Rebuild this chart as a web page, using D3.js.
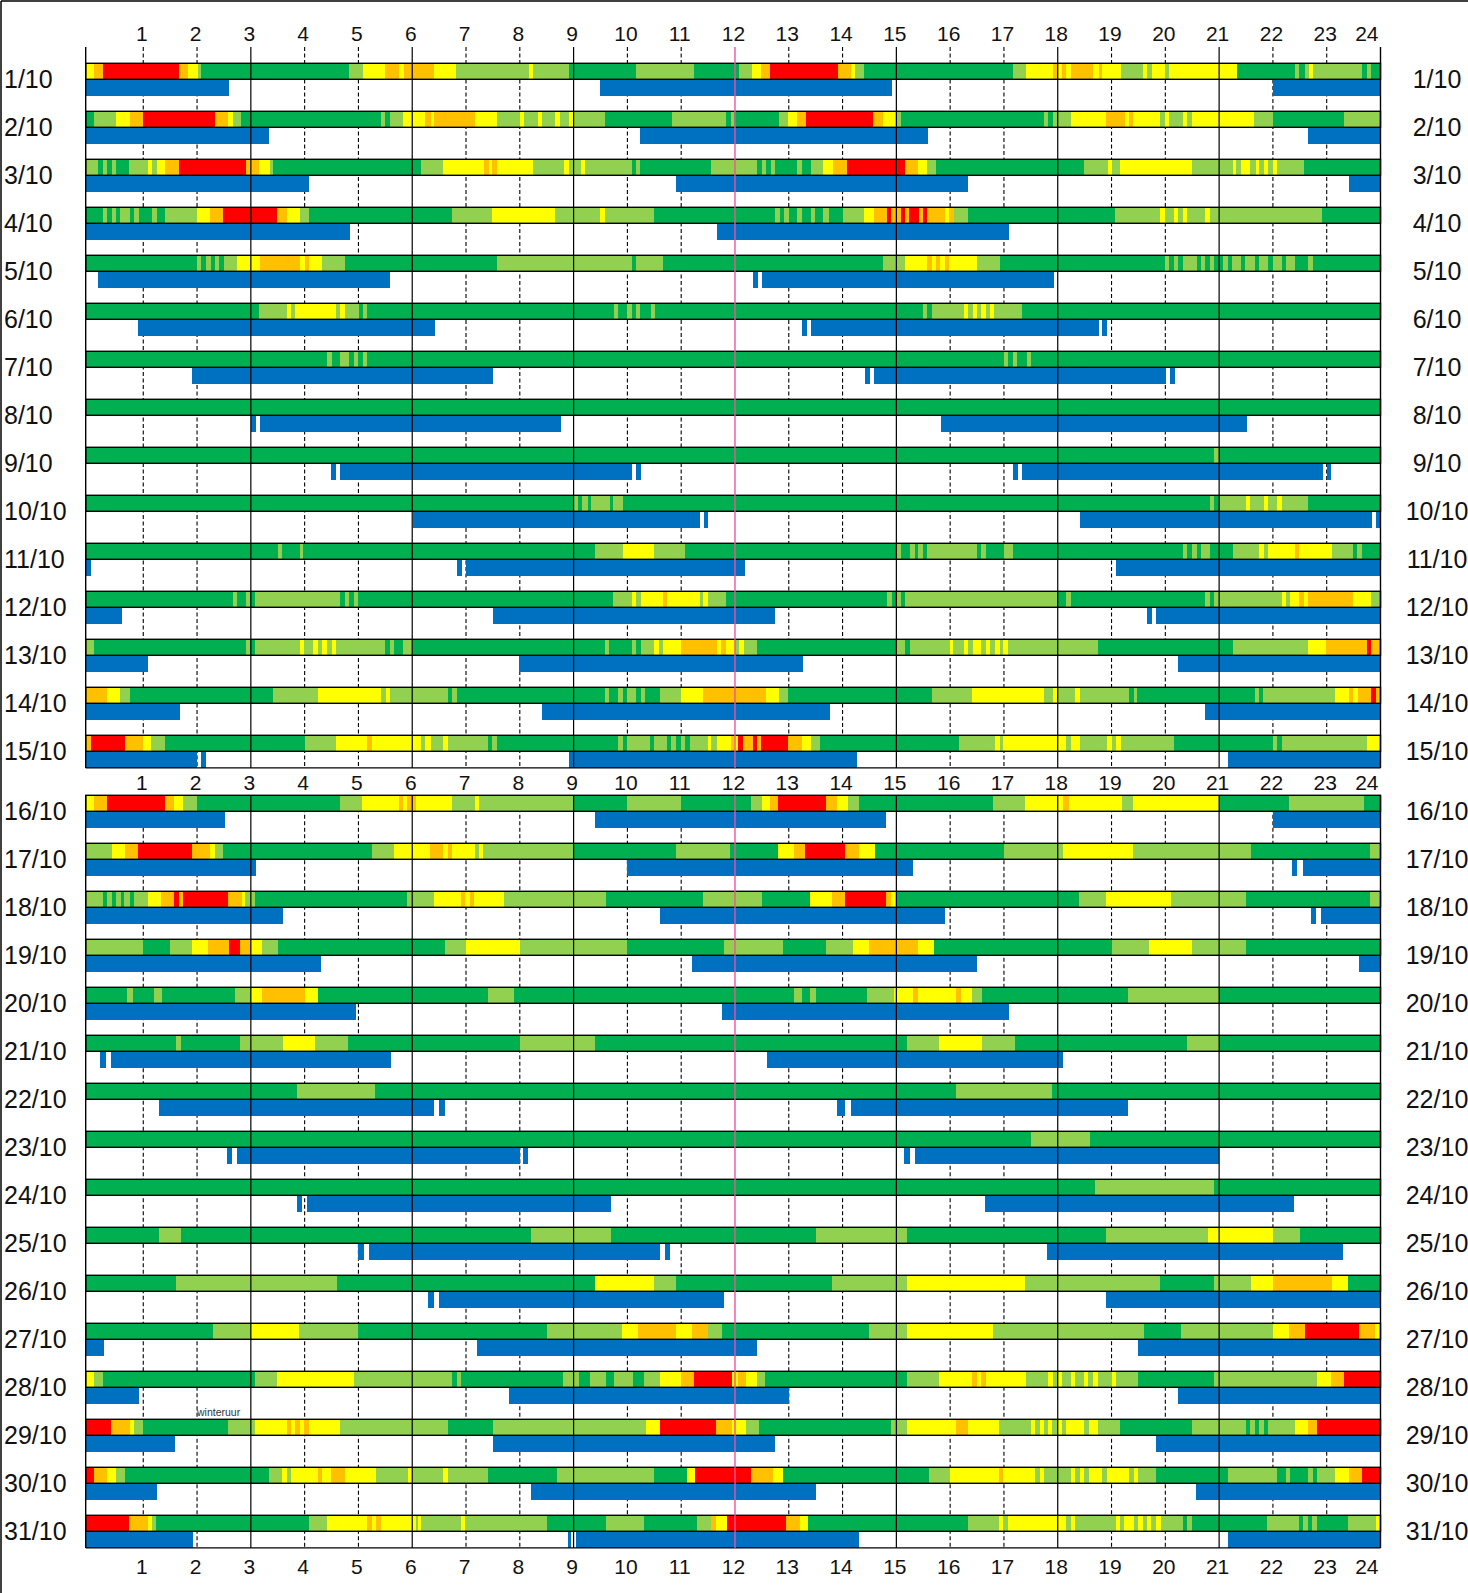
<!DOCTYPE html>
<html>
<head>
<meta charset="utf-8">
<script src="https://cdnjs.cloudflare.com/ajax/libs/d3/7.8.5/d3.min.js"></script>
<style>
  body { margin: 0; background: #fff; }
  svg { display: block; }
  text { font-family: "Liberation Sans", Arial, sans-serif; fill: #111; }
</style>
</head>
<body>
<div id="chart"></div>
<script>
// dagen van oktober
var days = ["1/10","2/10","3/10","4/10","5/10","6/10","7/10","8/10","9/10","10/10",
  "11/10","12/10","13/10","14/10","15/10","16/10","17/10","18/10","19/10","20/10",
  "21/10","22/10","23/10","24/10","25/10","26/10","27/10","28/10","29/10","30/10","31/10"];
var hours = [1,2,3,4,5,6,7,8,9,10,11,12,13,14,15,16,17,18,19,20,21,22,23,24];

// niveau per dag: "beginuur+klasse" (G donkergroen, L lichtgroen, Y geel, O oranje, R rood)
var levels = [
  "0Y .08O .25R 1.66O 1.84Y 2.01L 2.08G 4.82L 5.08Y 5.5O 5.76Y 5.84O 6.4Y 6.81L 8.17Y 8.25L 8.92G 10.16L 11.24G 12.08L 12.31Y 12.49O 12.65R 13.92O 14.15Y 14.23L 14.4G 17.17L 17.41Y 17.91O 17.99Y 18.08O 18.15Y 18.25O 18.65Y 18.76O 18.83Y 19.17L 19.59Y 19.66L 19.76Y 19.99L 20.07Y 21.34G 22.41L 22.49G 22.59L 22.67Y 22.75L 23.65G 23.74L 23.82G",
  "0G .08L .5Y .75O 1R 2.34O 2.58Y 2.66L 2.81G 5.42L 5.5G 5.59L 5.83Y 6.24O 6.34Y 6.41O 7.17Y 7.57L 8Y 8.08L 8.34Y 8.42L 8.65Y 8.75L 8.92Y 9L 9.58G 10.83L 11.84G 11.92L 11.99G 12.81L 12.99Y 13.15O 13.32R 14.57O 14.75Y 15L 15.08G 17.75L 17.82G 17.91L 18.25Y 18.9O 19.25Y 19.33O 19.4Y 19.91L 19.99Y 20.07L 20.33Y 20.41L 20.5Y 21.65L 22.01G 23.33L",
  "0L .16G .25L .33G .42L .5G .73L 1.09Y 1.17L 1.25Y 1.4O 1.66R 2.91O 3.16Y 3.35L 3.42G 6.16L 6.57Y 7.34O 7.42Y 7.49O 7.57Y 8.25L 8.83Y 8.92L 9.14Y 9.22L 10.08G 10.16L 10.23G 11.56L 12.41G 12.5L 12.58G 12.67L 12.74G 13.15L 13.25G 13.41L 13.64Y 13.83O 14.08R 15.16O 15.41Y 15.57L 15.74G 18.49L 18.93Y 19.01L 19.16Y 20.5L 21.25Y 21.32L 21.4Y 21.57L 21.68Y 21.75L 21.83Y 21.91L 22Y 22.08L 22.58G",
  "0G .25L .33G .42L .5G .57L .76G .83L .92G 1.17L 1.25G 1.4L 2Y 2.24O 2.48R 3.49O 3.67Y 3.91L 4.09G 6.74L 7.49Y 8.65L 9.49Y 9.58L 10.5G 12.74L 12.84G 12.91L 13G 13.15L 13.25G 13.41L 13.49G 13.64L 13.75G 14L 14.4Y 14.58O 14.83R 14.9O 15.08R 15.16O 15.23R 15.42O 15.5R 15.57O 15.91Y 15.98O 16.07L 16.33G 19.06L 19.91Y 19.99L 20.17Y 20.24L 20.33Y 20.41L 20.74Y 20.83L 22.91G",
  "0G 2L 2.08G 2.16L 2.25G 2.33L 2.41G 2.5L 2.74Y 3.17O 3.91Y 4O 4.09Y 4.32L 4.75G 7.57L 10.08G 10.16L 10.66G 14.75L 15.16Y 15.57O 15.66Y 15.74O 15.82Y 15.91O 15.98Y 16.5L 16.92G 19.99L 20.07G 20.17L 20.24G 20.33L 20.58G 20.66L 20.74G 20.83L 20.91G 21.08L 21.16G 21.24L 21.4G 21.49L 21.67G 21.75L 21.91G 22L 22.16G 22.24L 22.41G 22.65L 22.75G",
  "0G 3.15L 3.67Y 3.74L 3.82Y 4.58L 4.66Y 4.75L 5.01G 5.08L 5.16G 9.75L 9.83G 10L 10.08G 10.16L 10.23G 10.43L 10.51G 15.5L 15.57G 15.66L 16.25Y 16.33L 16.42Y 16.5L 16.58Y 16.67L 16.74Y 16.82L 17.34G",
  "0G 4.42L 4.5G 4.66L 4.83G 4.92L 5G 5.08L 5.16G 17L 17.08G 17.17L 17.24G 17.42L 17.5G",
  "0G",
  "0G 20.91L 20.99G",
  "0G 9L 9.08G 9.16L 9.26G 9.33L 9.67G 9.73L 9.92G 20.83L 20.91G 21L 21.5Y 21.57L 21.83Y 21.91L 22.08Y 22.16L 22.65G",
  "0G 3.5L 3.58G 3.91L 3.97G 9.4L 9.92Y 10.5L 11.08G 15L 15.08G 15.26L 15.34G 15.41L 15.5G 15.57L 16.5G 16.58L 16.66G 17L 17.17G 20.33L 20.41G 20.5L 20.58G 20.66L 20.83G 21.25L 21.75Y 21.83L 21.91Y 22.41O 22.49Y 23.09L 23.49G 23.57L 23.65G",
  "0G 2.66L 2.74G 2.91L 2.99G 3.08L 4.66G 4.75L 4.83G 4.92L 5G 9.73L 10.08Y 10.16L 10.25Y 10.66O 10.74Y 11.35L 11.41Y 11.5L 11.84G 14.83L 14.92G 15L 15.08G 15.16L 17.99G 18.15L 18.25G 20.74L 20.83G 20.91L 22.16Y 22.24L 22.32Y 22.49O 22.57Y 22.65O 23.49Y 23.83L",
  "0L .08G 2.91L 2.99G 3.08L 3.91Y 3.99L 4.16Y 4.24L 4.33Y 4.41L 4.5Y 4.58L 5.5G 5.58L 5.66G 5.82L 6.01G 9.58L 9.66G 10.08L 10.16G 10.25L 10.5Y 10.58L 10.66Y 11O 11.66Y 11.74O 11.84Y 12L 12.08Y 12.17L 12.41G 15L 15.16G 15.26L 15.99Y 16.06L 16.25Y 16.33L 16.42Y 16.58L 16.67Y 16.74L 16.84Y 16.92L 16.99Y 17.07L 18.75G 21.25L 22.65Y 22.99O 23.74R 23.83O",
  "0O .32Y .57L .75G 3.42L 4.25Y 5.42L 5.51Y 5.58L 6.66G 6.74L 6.84G 9.58L 9.66G 9.83L 9.92G 10L 10.16G 10.25L 10.33G 10.6L 11Y 11.41O 12.58Y 12.81L 12.99G 15.66L 16.41Y 17.75L 17.91Y 17.99L 18.33Y 18.41L 19.33G 19.41L 19.48G 21.67L 21.75G 21.82L 23.16Y 23.41O 23.49Y 23.59O 23.83R 23.92O",
  "0O .03R .66O 1Y 1.15L 1.4G 4L 4.58Y 5.16O 5.26Y 6.16L 6.24Y 6.34L 6.57Y 6.66L 7.41G 7.49L 7.57G 9.83L 9.92G 10L 10.42G 10.5L 10.74G 10.81L 10.91G 10.99L 11.08G 11.16L 11.5Y 11.56L 11.66Y 11.92O 11.99Y 12.06R 12.14O 12.34R 12.41O 12.49R 12.99O 13.25Y 13.41L 13.58G 16.17L 16.84Y 16.92L 16.99Y 18.15L 18.25Y 18.42L 18.92Y 19L 19.08Y 19.17L 20.17G 22L 22.08G 22.16L 23.75Y",
  "0Y .08O .33R 1.4O 1.57Y 1.74L 1.99G 4.65L 5.06Y 5.75O 5.83Y 5.91O 6.07Y 6.74L 7.17Y 7.24L 9G 10L 11G 12.3L 12.5Y 12.65O 12.8R 13.7O 13.9Y 14.1L 14.3G 16.8L 17.4Y 18.1O 18.2Y 19.2L 19.4Y 21G 22.3L 23.7G",
  "0L .42Y .66O .9R 1.91O 2.24Y 2.33L 2.48G 5.25L 5.66Y 6.33O 6.57Y 6.66O 6.74Y 7.17L 7.24Y 7.32L 9G 10.9L 11.9G 12.8Y 13.1O 13.3R 14.05O 14.3Y 14.6G 17L 18.1Y 19.4L 21.6G 23.8L",
  "0L .25G .32L .42G .49L .58G .65L .75G .83L 1.09Y 1.33O 1.57R 1.66O 1.74R 2.57O 2.83Y 2.9L 3.08G 5.9L 6.4Y 6.91O 6.99Y 7.07O 7.15Y 7.7L 9.6G 11.4L 12.5G 13.4Y 13.8O 14.05R 14.8O 14.9Y 15G 18.4L 18.9Y 20.1L 21.5G 23.8L",
  "0L 1G 1.5L 1.9Y 2.2O 2.6R 2.8O 3Y 3.2L 3.5G 6.6L 7Y 8L 10G 11.8L 12.9G 13.7L 14.2Y 14.5O 15.4Y 15.7G 19L 19.7Y 20.5L 21.5G",
  "0G .7L .8G 1.2L 1.35G 2.7L 3Y 3.2O 4Y 4.25G 7.4L 7.9G 13.1L 13.25G 13.4L 13.5G 14.45L 14.95Y 15.3O 15.4Y 16.1O 16.2Y 16.4L 16.6G 19.3L 21G",
  "0G 1.6L 1.7G 2.8L 3.6Y 4.2L 4.8G 8L 9.4G 15.2L 15.8Y 16.6L 17.2G 20.4L 21G",
  "0G 3.85L 5.3G 16.1L 17.9G",
  "0G 17.5L 18.6G",
  "0G 18.7L 20.9G",
  "0G 1.3L 1.7G 8.2L 9.7G 13.5L 15.2G 18.9L 20.8Y 22L 22.5G",
  "0G 1.6L 4.6G 9.4Y 10.5L 10.9G 13.8L 15.2Y 17.4L 19.9G 20.9L 21.6Y 22O 23.1Y 23.4G",
  "0G 2.3L 3Y 3.9L 5G 8.5L 9.9Y 10.2O 10.9Y 11.2O 11.5L 11.75G 14.5L 15.2Y 16.8L 19.6G 20.3L 22Y 22.3O 22.6R 23.6O 23.9Y",
  "0Y .08L .25G 3.08L 3.48Y 4.92L 6.74G 6.83L 6.91G 8.8L 9.1G 9.3L 9.6G 9.75L 10.1G 10.3L 10.6Y 11O 11.24R 11.95Y 12.05O 12.2Y 12.4L 12.55G 15.2L 15.8Y 16.41O 16.49Y 16.57O 16.66Y 17.41L 17.82Y 17.92L 17.99Y 18.07L 18.25Y 18.32L 18.49Y 18.57L 18.65Y 18.74L 19Y 19.08L 19.49G 20.9L 22.82Y 23.08O 23.32R",
  "0R .4O .75Y .83L 1G 2.57L 3.08Y 3.67O 3.75Y 3.82O 3.91Y 3.99O 4.08Y 4.66L 6.66G 7.5L 10.35Y 10.6R 11.65O 11.95Y 12.2L 12.45G 14.9L 15.2Y 16.1O 16.33Y 16.9L 17.5Y 17.58L 17.67Y 17.74L 17.82Y 17.9L 17.99Y 18.07L 18.15Y 18.49L 18.58Y 18.74L 19.15G 20.49L 21.5G 21.57L 21.66G 21.74L 21.83G 21.91L 22.41Y 22.65O 22.82R",
  "0R .08O .33Y .49L .66G 3.34L 3.58Y 3.67L 3.75Y 4.25O 4.32Y 4.49O 4.75Y 5.33L 5.92Y 6L 6.57Y 6.66L 7.41G 8.7L 10.5G 11.1Y 11.25R 12.3O 12.7Y 12.9G 15.6L 16Y 16.9O 16.99Y 17.57L 17.67Y 17.74L 18.24Y 18.32L 18.41Y 18.49L 18.58Y 18.82L 18.91Y 19.32L 19.41Y 19.49L 19.82G 21.16L 22.07G 22.24L 22.31G 22.65L 22.74G 22.82L 23.15Y 23.41O 23.65R",
  "0R .73O 1.09Y 1.17L 1.24G 4.08L 4.42Y 5.16O 5.25Y 5.33O 5.42Y 6.07L 6.1Y 6.16L 6.91Y 6.99L 8.5G 9.6L 10.3G 11.3L 11.55O 11.65Y 11.85R 12.95O 13.2Y 13.35G 16.33L 16.9Y 16.99L 17.07Y 18.15L 18.24Y 18.32L 19.08Y 19.15L 19.23Y 19.41L 19.49Y 19.58L 19.66Y 19.74L 19.82Y 19.92L 20.33G 20.4L 20.49G 21.89L 22.48G 22.56L 22.65G 22.73L 22.82G 23.39L 23.91Y"
];

// slaapperiodes (blauw) per dag: [begin, einde] in uren
var sleep = [
  [[0,2.59],[9.49,14.92],[22.01,24]],
  [[0,3.34],[10.23,15.59],[22.65,24]],
  [[0,4.09],[10.91,16.33],[23.42,24]],
  [[0,4.84],[11.67,17.1]],
  [[0.16,5.58],[12.34,12.43],[12.5,17.93]],
  [[0.9,6.42],[13.25,13.34],[13.41,18.77],[18.83,18.91]],
  [[1.91,7.5],[14.42,14.51],[14.58,20.02],[20.09,20.18]],
  [[3,3.09],[3.17,8.77],[15.83,21.52]],
  [[4.49,4.58],[4.66,10.08],[10.16,10.26],[17.17,17.26],[17.34,22.93],[23,23.08]],
  [[6.01,11.35],[11.42,11.5],[18.42,23.84],[23.92,24]],
  [[0,0.02],[6.84,6.92],[7,12.18],[19.09,24]],
  [[0,0.61],[7.5,12.75],[19.66,19.76],[19.83,24]],
  [[0,1.09],[7.99,13.26],[20.24,24]],
  [[0,1.69],[8.42,13.77],[20.74,24]],
  [[0,2],[2.07,2.16],[8.92,14.27],[21.17,24]],
  [[0,2.52],[9.4,14.8],[22,24]],
  [[0,3.1],[10,15.3],[22.35,22.45],[22.55,24]],
  [[0,3.6],[10.6,15.9],[22.7,22.8],[22.9,24]],
  [[0,4.3],[11.2,16.5],[23.6,24]],
  [[0,4.95],[11.75,17.1]],
  [[0.2,0.3],[0.4,5.6],[12.6,18.1]],
  [[1.3,6.4],[6.5,6.6],[13.9,14.05],[14.15,19.3]],
  [[2.55,2.65],[2.75,8],[8.05,8.15],[15.15,15.25],[15.35,21]],
  [[3.85,3.95],[4.05,9.7],[16.65,22.4]],
  [[5,5.1],[5.2,10.6],[10.7,10.8],[17.8,23.3]],
  [[6.3,6.4],[6.5,11.8],[18.9,24]],
  [[0,0.27],[7.2,12.4],[19.49,24]],
  [[0,0.92],[7.8,13],[20.23,24]],
  [[0,1.59],[7.5,12.75],[19.82,24]],
  [[0,1.25],[8.2,13.5],[20.57,24]],
  [[0,1.92],[8.9,8.95],[9.05,14.3],[21.16,24]]
];

var colors = {G: "#00b050", L: "#92d050", Y: "#ffff00", O: "#ffc000", R: "#ff0000"};
var sleepColor = "#0070c0";

var W = 1468, H = 1593;
var rowStep = 48, barH = 16, sleepH = 16.6;

var svg = d3.select("#chart").append("svg").attr("width", W).attr("height", H);

// kader
svg.append("line").attr("x1", 1).attr("x2", W).attr("y1", 1).attr("y2", 1).attr("stroke", "#000").attr("stroke-width", 1.5);
svg.append("line").attr("x1", 1).attr("x2", 1).attr("y1", 1).attr("y2", H).attr("stroke", "#000").attr("stroke-width", 1.5);

var x = d3.scaleLinear().domain([-0.07, 24]).range([85.7, 1380.5]);
function xs(v) { return v <= 0 ? x.range()[0] : x(v); } // begin van de dag = linkerrand

function parseLevels(str) {
  var segs = str.split(" ").map(function (t) {
    return {start: +t.slice(0, -1), c: t.slice(-1)};
  });
  segs.forEach(function (s, i) { s.end = i < segs.length - 1 ? segs[i + 1].start : 24; });
  return segs;
}

var rows = days.map(function (d, i) {
  return {day: d, segs: parseLevels(levels[i]), sleep: sleep[i]};
});

var panels = [
  {rows: rows.slice(0, 15), top: 63.3, gridTop: 47},
  {rows: rows.slice(15), top: 795.3, gridTop: 795.3}
];
var tickRows = [40.5, 789.5, 1573.5];

panels.forEach(function (p) {
  var y = d3.scaleBand().domain(p.rows.map(function (r) { return r.day; }))
    .range([p.top, p.top + p.rows.length * rowStep]);
  var bottom = y(p.rows[p.rows.length - 1].day) + barH + sleepH;
  var g = svg.append("g");

  // gestippelde uurlijnen
  g.selectAll("line.dash")
    .data(hours.filter(function (h) { return h % 3 !== 0 && h !== 12; }))
    .enter().append("line")
    .attr("x1", function (h) { return x(h); }).attr("x2", function (h) { return x(h); })
    .attr("y1", p.gridTop).attr("y2", bottom)
    .attr("stroke", "#000").attr("stroke-width", 1.1).attr("stroke-dasharray", "4,2.5");

  var row = g.selectAll("g.row").data(p.rows).enter().append("g");

  row.selectAll("rect.seg")
    .data(function (r) { return r.segs.map(function (s) { s.day = r.day; return s; }); })
    .enter().append("rect")
    .attr("x", function (s) { return xs(s.start); })
    .attr("width", function (s) { return x(s.end) - xs(s.start); })
    .attr("y", function (s) { return y(s.day); })
    .attr("height", barH)
    .attr("fill", function (s) { return colors[s.c]; })
    .attr("shape-rendering", "crispEdges");

  row.selectAll("rect.sleep")
    .data(function (r) { return r.sleep.map(function (s) { return {day: r.day, a: s[0], b: s[1]}; }); })
    .enter().append("rect")
    .attr("x", function (s) { return xs(s.a); })
    .attr("width", function (s) { return x(s.b) - xs(s.a); })
    .attr("y", function (s) { return y(s.day) + barH; })
    .attr("height", sleepH)
    .attr("fill", sleepColor)
    .attr("shape-rendering", "crispEdges");

  // omranding van de kleurbalk
  row.append("rect")
    .attr("x", x.range()[0]).attr("width", x.range()[1] - x.range()[0])
    .attr("y", function (r) { return y(r.day); }).attr("height", barH)
    .attr("fill", "none").attr("stroke", "#000").attr("stroke-width", 1.4);

  // volle lijnen om de 3 uur
  g.selectAll("line.solid")
    .data([3, 6, 9, 15, 18, 21])
    .enter().append("line")
    .attr("x1", function (h) { return x(h); }).attr("x2", function (h) { return x(h); })
    .attr("y1", p.gridTop).attr("y2", bottom)
    .attr("stroke", "#000").attr("stroke-width", 1.2);

  // randen
  [x.range()[0], x.range()[1]].forEach(function (xx) {
    g.append("line").attr("x1", xx).attr("x2", xx).attr("y1", p.gridTop).attr("y2", bottom)
      .attr("stroke", "#000").attr("stroke-width", 1.4);
  });
  g.append("line").attr("x1", x.range()[0]).attr("x2", x.range()[1])
    .attr("y1", bottom).attr("y2", bottom).attr("stroke", "#000").attr("stroke-width", 1.4);

  // middaglijn
  g.append("line").attr("x1", x(12)).attr("x2", x(12)).attr("y1", p.gridTop).attr("y2", bottom)
    .attr("stroke", "#f0509c").attr("stroke-width", 1.4);

  // dag-labels links en rechts
  row.append("text").attr("x", 4).attr("y", function (r) { return y(r.day) + 24.5; })
    .attr("font-size", 25).text(function (r) { return r.day; });
  row.append("text").attr("x", 1437).attr("y", function (r) { return y(r.day) + 24.5; })
    .attr("text-anchor", "middle").attr("font-size", 25).text(function (r) { return r.day; });
});

// uurlabels
tickRows.forEach(function (ty) {
  svg.append("g").selectAll("text").data(hours).enter().append("text")
    .attr("x", function (h) { return h === 24 ? x(h) - 2 : x(h) - 1.5; })
    .attr("y", ty)
    .attr("text-anchor", function (h) { return h === 24 ? "end" : "middle"; })
    .attr("font-size", 21)
    .text(function (h) { return h; });
});

svg.append("text").attr("x", 197).attr("y", 1416).attr("font-size", 10.5)
  .style("fill", "#333").text("winteruur");
</script>
</body>
</html>
